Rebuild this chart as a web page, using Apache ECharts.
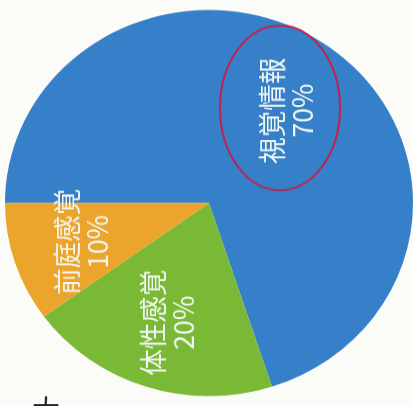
<!DOCTYPE html>
<html>
<head>
<meta charset="utf-8">
<script src="https://cdn.jsdelivr.net/npm/echarts@6/dist/echarts.min.js"></script>
<style>
html,body{margin:0;padding:0;background:#fbfbf8;overflow:hidden;}
#wrap{width:413px;height:406px;overflow:hidden;position:relative;}
#c{width:413px;height:429px;transform:scaleY(0.9464);transform-origin:0 0;}
</style>
</head>
<body>
<div id="wrap"><div id="c"></div></div>
<script>
const categories = ['視覚情報', '体性感覚', '前庭感覚'];
const values = [70, 20, 10];
const colors = ['#3580c8', '#7ab936', '#eca52c'];

const data = categories.map((n, i) => ({ name: n, value: values[i] }));
const chart = echarts.init(document.getElementById('c'), null, { renderer: 'canvas' });
chart.setOption({
  backgroundColor: '#fbfbf8',
  animation: false,
  color: colors,
  series: [
    {
      type: 'pie',
      center: [209, 214.5],
      radius: [0, 204],
      startAngle: 180,
      clockwise: true,
      silent: true,
      label: { show: false },
      labelLine: { show: false },
      itemStyle: { borderWidth: 0 },
      data: data
    },
    {
      type: 'pie',
      center: [209, 214.5],
      radius: [60, 200],
      startAngle: 180,
      clockwise: true,
      silent: true,
      itemStyle: { color: 'rgba(0,0,0,0)', borderWidth: 0 },
      labelLine: { show: false },
      labelLayout: function (p) {
        return p.dataIndex === 0 ? { dx: -10, dy: 0 } : {};
      },
      label: {
        show: true,
        position: 'inside',
        rotate: 90,
        formatter: '{b}\n{d}%',
        color: '#f2f5f2',
        fontFamily: '"Noto Sans CJK JP", "Noto Sans", sans-serif',
        fontSize: 28,
        lineHeight: 30,
        align: 'center'
      },
      data: data
    }
  ],
  graphic: [
    {
      type: 'ellipse',
      z: 100,
      shape: { cx: 280, cy: 114, rx: 60, ry: 87 },
      style: { fill: 'none', stroke: '#c4204c', lineWidth: 2 }
    },
    {
      type: 'text',
      z: 100,
      left: 32,
      top: 418,
      style: { text: '大', fill: '#222', font: '28px "Noto Sans CJK JP"' }
    }
  ]
});
</script>
</body>
</html>
